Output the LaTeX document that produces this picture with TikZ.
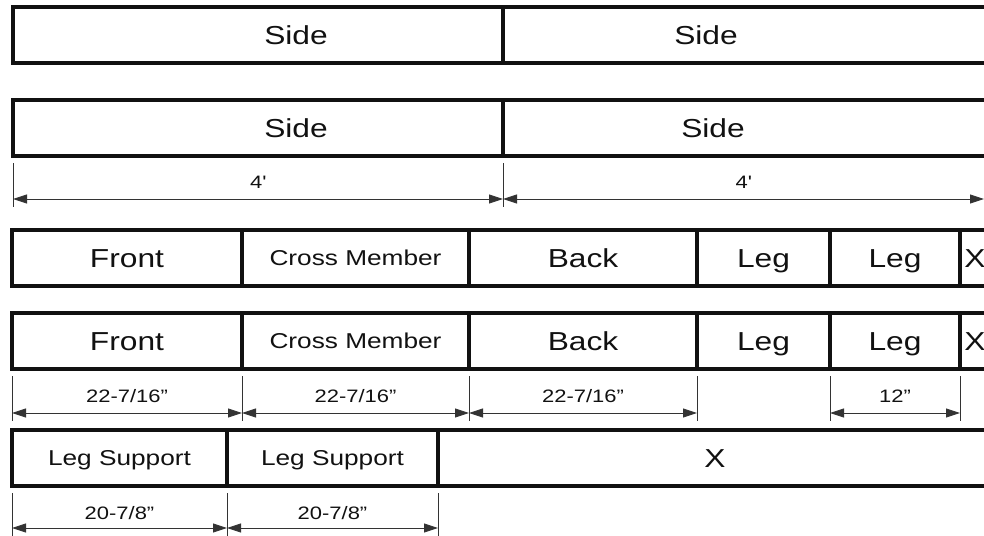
\documentclass[tikz,border=0pt]{standalone}
\usepackage{fontspec}
\setmainfont{Liberation Sans}[FakeStretch=1.22]
\usetikzlibrary{arrows.meta,positioning}
\definecolor{ink}{HTML}{111111}
\definecolor{rule}{HTML}{333333}
\tikzset{
  board/.style={draw=ink,line width=3.5pt,minimum height=56pt,inner sep=0pt,outer sep=0pt,anchor=north west,
    font=\fontsize{26}{26}\selectfont,text=ink,text height=18.6pt,text depth=0pt},
  smallboard/.style={board,font=\fontsize{21.5}{22}\selectfont,text height=15.4pt},
  tag/.style={font=\fontsize{26}{26}\selectfont,text=ink,text height=18.6pt,text depth=0pt,inner sep=0pt},
  ext/.style={draw=rule,line width=0.9pt},
  dim/.style={{Triangle[length=14pt,width=9pt]}-{Triangle[length=14pt,width=9pt]},draw=rule,line width=0.9pt},
  dimtxt/.style={font=\fontsize{18}{18}\selectfont,text=ink,text depth=0pt,inner sep=0pt}
}
\begin{document}
\begin{tikzpicture}[x=1pt,y=-1pt]
    \path[use as bounding box,clip] (0,0) rectangle (984,535);

    % sides
    \node[board,minimum width=490pt] (sideA) at (13,7) {};
    \node[board,minimum width=500pt,right=0pt of sideA] (sideB) {};
    \node[board,minimum width=490pt] (sideC) at (13,100) {};
    \node[board,minimum width=500pt,right=0pt of sideC] (sideD) {};
    \node[tag] (sideAtxt) at (296,35) {Side};
    \node[tag] (sideBtxt) at (706,35) {Side};
    \node[tag] (sideCtxt) at (296,128) {Side};
    \node[tag] (sideDtxt) at (713,128) {Side};
    \coordinate (rim) at (984,199);

    \draw[ext] ([yshift=-7pt]sideC.south west) -- ++(0,44);
    \draw[ext] ([yshift=-7pt]sideD.south west) -- ++(0,44);
    \draw[dim] ([yshift=-43pt]sideC.south west) -- node[dimtxt,above=10pt]{4\textquotesingle} ([yshift=-43pt]sideC.south east);
    \draw[dim] ([yshift=-43pt]sideD.south west) -- node[dimtxt,above=10pt]{4\textquotesingle} (rim);

    % front, cross member, back, legs
    \node[board,minimum width=230pt] (frontA) at (12,230) {Front};
    \node[smallboard,minimum width=227pt,right=0pt of frontA] (crossA) {Cross Member};
    \node[board,minimum width=228pt,right=0pt of crossA] (backA) {Back};
    \node[board,minimum width=133pt,right=0pt of backA] (legA) {Leg};
    \node[board,minimum width=130pt,right=0pt of legA] (legB) {Leg};
    \node[board,minimum width=30pt,right=0pt of legB] (xA) {X};

    \node[board,minimum width=230pt] (frontB) at (12,313) {Front};
    \node[smallboard,minimum width=227pt,right=0pt of frontB] (crossB) {Cross Member};
    \node[board,minimum width=228pt,right=0pt of crossB] (backB) {Back};
    \node[board,minimum width=133pt,right=0pt of backB] (legC) {Leg};
    \node[board,minimum width=130pt,right=0pt of legC] (legD) {Leg};
    \node[board,minimum width=30pt,right=0pt of legD] (xB) {X};

    \draw[ext] ([yshift=-7pt]frontB.south west) -- ++(0,45);
    \draw[ext] ([yshift=-7pt]crossB.south west) -- ++(0,45);
    \draw[ext] ([yshift=-7pt]backB.south west) -- ++(0,45);
    \draw[ext] ([yshift=-7pt]legC.south west) -- ++(0,45);
    \draw[ext] ([yshift=-7pt]legD.south west) -- ++(0,45);
    \draw[ext] ([yshift=-7pt]xB.south west) -- ++(0,45);
    \draw[dim] ([yshift=-44pt]frontB.south west) -- node[dimtxt,above=10pt]{22-7/16”} ([yshift=-44pt]frontB.south east);
    \draw[dim] ([yshift=-44pt]crossB.south west) -- node[dimtxt,above=10pt]{22-7/16”} ([yshift=-44pt]crossB.south east);
    \draw[dim] ([yshift=-44pt]backB.south west) -- node[dimtxt,above=10pt]{22-7/16”} ([yshift=-44pt]backB.south east);
    \draw[dim] ([yshift=-44pt]legD.south west) -- node[dimtxt,above=10pt]{12”} ([yshift=-44pt]legD.south east);

    % leg supports
    \node[smallboard,minimum width=215pt] (supA) at (12,430) {Leg Support};
    \node[smallboard,minimum width=211pt,right=0pt of supA] (supB) {Leg Support};
    \node[board,minimum width=554pt,right=0pt of supB] (xC) {X};

    \draw[ext] ([yshift=-7pt]supA.south west) -- ++(0,50);
    \draw[ext] ([yshift=-7pt]supB.south west) -- ++(0,50);
    \draw[ext] ([yshift=-7pt]xC.south west) -- ++(0,50);
    \draw[dim] ([yshift=-42pt]supA.south west) -- node[dimtxt,above=8pt]{20-7/8”} ([yshift=-42pt]supA.south east);
    \draw[dim] ([yshift=-42pt]supB.south west) -- node[dimtxt,above=8pt]{20-7/8”} ([yshift=-42pt]supB.south east);
\end{tikzpicture}
\end{document}
